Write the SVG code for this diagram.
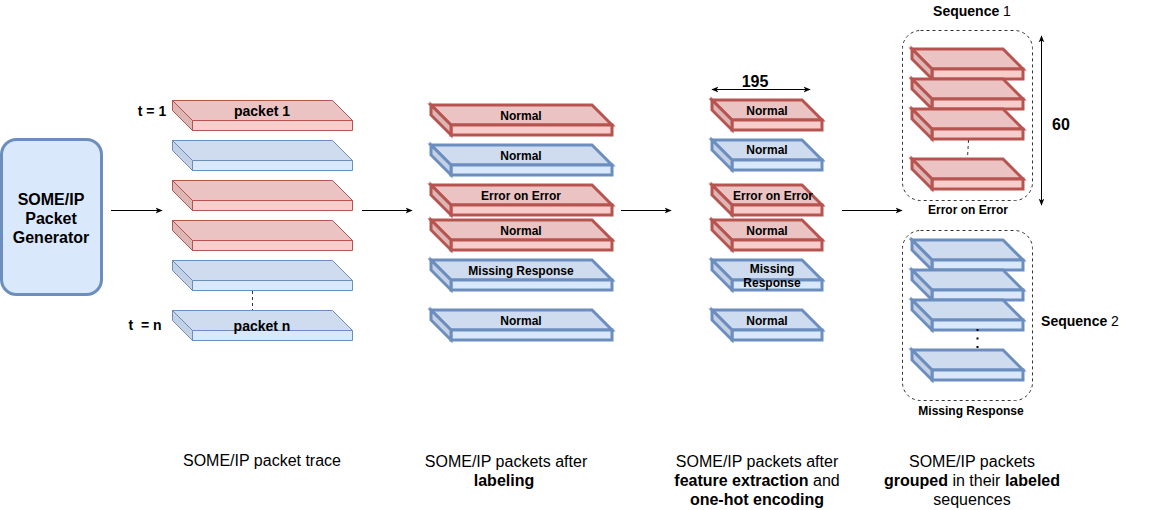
<svg xmlns="http://www.w3.org/2000/svg" width="1151" height="510" viewBox="0 0 1151 510">
<style>
text{font-family:"Liberation Sans",Arial,sans-serif;fill:#000}
.b{font-weight:bold}
.lbl{font-size:12px;font-weight:bold;text-anchor:middle}
.cap{font-size:16px;text-anchor:middle}
.r{--t:#ebc3c2;--f:#f8cecc;--s:#dcb7b6;stroke:#b85450}
.u{--t:#cfdcef;--f:#dae8fc;--s:#c4d1e4;stroke:#6c8ebf}
.thin{stroke-width:1}.thick{stroke-width:3}
.con{stroke:#000;stroke-width:1;fill:none}
</style>
<defs>
<marker id="ah" viewBox="0 0 10 10" refX="9" refY="5" markerWidth="7" markerHeight="7" orient="auto-start-reverse" markerUnits="userSpaceOnUse"><path d="M0,1 L10,5 L0,9 L2.5,5 Z" fill="#000" stroke="none"/></marker>
<symbol id="p160" overflow="visible">
<path style="fill:var(--t)" d="M0,0 H160 L180,20 H20 Z"/><path style="fill:var(--f)" d="M20,20 H180 V30 H20 Z"/><path style="fill:var(--s)" d="M0,0 L20,20 V30 L0,10 Z"/>
</symbol>
<symbol id="p181" overflow="visible">
<path style="fill:var(--t)" d="M0,0 H161 L181,20 H20 Z"/><path style="fill:var(--f)" d="M20,20 H181 V30 H20 Z"/><path style="fill:var(--s)" d="M0,0 L20,20 V30 L0,10 Z"/>
</symbol>
<symbol id="p110" overflow="visible">
<path style="fill:var(--t)" d="M0,0 H90 L110,20 H20 Z"/><path style="fill:var(--f)" d="M20,20 H110 V30 H20 Z"/><path style="fill:var(--s)" d="M0,0 L20,20 V30 L0,10 Z"/>
</symbol>
<symbol id="p111" overflow="visible">
<path style="fill:var(--t)" d="M0,0 H91 L111,20 H20 Z"/><path style="fill:var(--f)" d="M20,20 H111 V30 H20 Z"/><path style="fill:var(--s)" d="M0,0 L20,20 V30 L0,10 Z"/>
</symbol>
</defs>

<g id="generator">
<rect x="1.5" y="139.5" width="100" height="155" rx="15" fill="#dae8fc" stroke="#6c8ebf" stroke-width="3"/>
<text class="b" x="51" y="205" font-size="16" text-anchor="middle">SOME/IP</text>
<text class="b" x="51" y="224" font-size="16" text-anchor="middle">Packet</text>
<text class="b" x="51" y="243" font-size="16" text-anchor="middle">Generator</text>
</g>

<g id="trace">
<use class="r thin" href="#p160" x="172.5" y="100.5"/>
<use class="u thin" href="#p160" x="172.5" y="140.5"/>
<use class="r thin" href="#p160" x="172.5" y="180.5"/>
<use class="r thin" href="#p160" x="172.5" y="220.5"/>
<use class="u thin" href="#p160" x="172.5" y="260.5"/>
<use class="u thin" href="#p160" x="172.5" y="310.5"/>
<line x1="252.5" y1="291" x2="252.5" y2="310" stroke="#333" stroke-dasharray="3 3"/>
<text class="b" x="262" y="116" font-size="14" text-anchor="middle">packet 1</text>
<text class="b" x="262" y="331" font-size="14" text-anchor="middle">packet n</text>
<text class="b" x="152" y="116" font-size="14" text-anchor="middle">t = 1</text>
<text class="b" x="145" y="330" font-size="14" text-anchor="middle" xml:space="preserve">t  = n</text>
</g>

<g id="labeled">
<use class="r thick" href="#p181" x="431" y="105"/>
<use class="u thick" href="#p181" x="431" y="145"/>
<use class="r thick" href="#p181" x="431" y="185"/>
<use class="r thick" href="#p181" x="431" y="220"/>
<use class="u thick" href="#p181" x="431" y="260"/>
<use class="u thick" href="#p181" x="431" y="310"/>
<text class="lbl" x="521" y="120">Normal</text>
<text class="lbl" x="521" y="160">Normal</text>
<text class="lbl" x="521" y="200">Error on Error</text>
<text class="lbl" x="521" y="235">Normal</text>
<text class="lbl" x="521" y="275">Missing Response</text>
<text class="lbl" x="521" y="325">Normal</text>
</g>

<g id="encoded">
<use class="r thick" href="#p110" x="712" y="100"/>
<use class="u thick" href="#p110" x="712" y="140"/>
<use class="r thick" href="#p110" x="712" y="185"/>
<use class="r thick" href="#p110" x="712" y="220"/>
<use class="u thick" href="#p110" x="712" y="260"/>
<use class="u thick" href="#p110" x="712" y="310"/>
<text class="lbl" x="767" y="115">Normal</text>
<text class="lbl" x="767" y="154">Normal</text>
<text class="lbl" x="773" y="200">Error on Error</text>
<text class="lbl" x="767" y="235">Normal</text>
<text class="lbl" x="772" y="273">Missing</text>
<text class="lbl" x="772" y="287">Response</text>
<text class="lbl" x="767" y="325">Normal</text>
<text class="b" x="755" y="87" font-size="16" text-anchor="middle">195</text>
</g>

<g id="sequence1">
<rect x="902.5" y="30.5" width="130" height="170" rx="18" fill="none" stroke="#333" stroke-dasharray="3 3"/>
<use class="r thick" href="#p111" x="912" y="49"/>
<use class="r thick" href="#p111" x="912" y="79"/>
<use class="r thick" href="#p111" x="912" y="109"/>
<use class="r thick" href="#p111" x="912" y="159"/>
<line x1="968.5" y1="140" x2="967.5" y2="158" stroke="#333" stroke-dasharray="3 3"/>
<text x="972" y="16" font-size="14" text-anchor="middle"><tspan class="b">Sequence</tspan> 1</text>
<text class="lbl" x="968" y="214">Error on Error</text>
<text class="b" x="1061" y="130" font-size="16" text-anchor="middle">60</text>
</g>

<g id="sequence2">
<rect x="902.5" y="230.5" width="130" height="170" rx="18" fill="none" stroke="#333" stroke-dasharray="3 3"/>
<use class="u thick" href="#p111" x="912" y="240"/>
<use class="u thick" href="#p111" x="912" y="270"/>
<use class="u thick" href="#p111" x="912" y="300"/>
<use class="u thick" href="#p111" x="912" y="350"/>
<line x1="977.5" y1="329" x2="977.5" y2="349" stroke="#000" stroke-width="2" stroke-dasharray="2 6.5"/>
<text x="1080" y="326" font-size="14" text-anchor="middle"><tspan class="b">Sequence</tspan> 2</text>
<text class="lbl" x="971" y="415">Missing Response</text>
</g>

<g id="connectors">
<line class="con" x1="111" y1="210.5" x2="162" y2="210.5" marker-end="url(#ah)"/>
<line class="con" x1="362" y1="210.5" x2="412" y2="210.5" marker-end="url(#ah)"/>
<line class="con" x1="621" y1="210.5" x2="671" y2="210.5" marker-end="url(#ah)"/>
<line class="con" x1="842" y1="210.5" x2="902" y2="210.5" marker-end="url(#ah)"/>
<line class="con" x1="712" y1="89.5" x2="810" y2="89.5" marker-start="url(#ah)" marker-end="url(#ah)"/>
<line class="con" x1="1041.5" y1="36" x2="1041.5" y2="205" marker-start="url(#ah)" marker-end="url(#ah)"/>
</g>

<g id="captions">
<text class="cap" x="262" y="466">SOME/IP packet trace</text>
<text class="cap" x="506" y="467">SOME/IP packets after</text>
<text class="cap b" x="504" y="486">labeling</text>
<text class="cap" x="757" y="467">SOME/IP packets after</text>
<text class="cap" x="757" y="486"><tspan class="b">feature extraction</tspan> and</text>
<text class="cap b" x="757" y="505">one-hot encoding</text>
<text class="cap" x="972" y="467">SOME/IP packets</text>
<text class="cap" x="972" y="486"><tspan class="b">grouped</tspan> in their <tspan class="b">labeled</tspan></text>
<text class="cap" x="972" y="505">sequences</text>
</g>
</svg>
